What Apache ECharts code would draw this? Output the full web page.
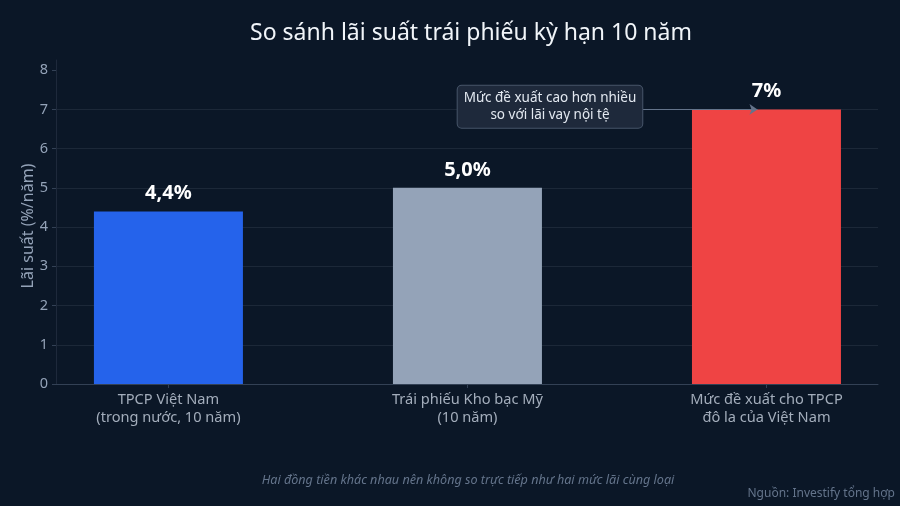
<!DOCTYPE html>
<html><head><meta charset="utf-8">
<script src="https://cdn.jsdelivr.net/npm/echarts@6/dist/echarts.min.js"></script>
<style>html,body{margin:0;padding:0;background:#0b1727;}#c{width:900px;height:506px;}</style>
</head><body><div id="c"></div>
<script>
const categories = ['TPCP Việt Nam\n(trong nước, 10 năm)', 'Trái phiếu Kho bạc Mỹ\n(10 năm)', 'Mức đề xuất cho TPCP\nđô la của Việt Nam'];
const values = [4.4, 5.0, 7.0];
const valueLabels = ['4,4%', '5,0%', '7%'];
const barColors = ['#2563eb', '#94a3b8', '#ef4444'];
const yTicks = [0, 1, 2, 3, 4, 5, 6, 7, 8];
const positions = [0, 1, 2];
const yAxisName = 'Lãi suất (%/năm)';

const chart = echarts.init(document.getElementById('c'));
const font = 'Noto Sans';
chart.setOption({
  backgroundColor: '#0b1727',
  textStyle: { fontFamily: font },
  title: [
    { text: 'So sánh lãi suất trái phiếu kỳ hạn 10 năm', left: 466, top: 17, textAlign: 'center',
      textStyle: { color: '#f1f5f9', fontSize: 23, fontWeight: 'normal', fontFamily: font } },
    { text: 'Hai đồng tiền khác nhau nên không so trực tiếp như hai mức lãi cùng loại', left: 463, top: 469, textAlign: 'center',
      textStyle: { color: '#64748b', fontSize: 12.6, fontStyle: 'italic', fontWeight: 'normal', fontFamily: font } },
    { text: 'Nguồn: Investify tổng hợp', right: 5, top: 488, padding: 0,
      textStyle: { color: '#64748b', fontSize: 12, fontWeight: 'normal', fontFamily: font } }
  ],
  graphic: [{
    type: 'text', x: 28, y: 226, rotation: Math.PI / 2,
    style: { text: yAxisName, fill: '#94a3b8', fontSize: 16, fontFamily: font, align: 'center', verticalAlign: 'middle' }
  }],
  grid: { left: 56, right: 22, top: 60, bottom: 122 },
  xAxis: {
    type: 'value', min: -0.376, max: 2.373,
    splitLine: { show: false },
    axisLine: { show: true, onZero: false, lineStyle: { color: '#334155' } },
    axisTick: { show: true, customValues: positions, length: 4, lineStyle: { color: '#334155' } },
    axisLabel: { customValues: positions, formatter: v => categories[Math.round(v)], color: '#a3adbb', fontSize: 14.6, lineHeight: 18, margin: 7, fontFamily: font }
  },
  yAxis: {
    type: 'value', min: 0, max: 8.26, interval: 1,
    axisLine: { show: true, onZero: false, lineStyle: { color: '#1e293b' } },
    axisTick: { show: true, length: 4, customValues: yTicks, lineStyle: { color: '#334155' } },
    axisLabel: { color: '#94a3b8', fontSize: 14.5, margin: 8, fontFamily: font, customValues: yTicks },
    splitLine: { showMaxLine: false, lineStyle: { color: '#1c2838', width: 1 } }
  },
  series: [{
    type: 'bar', barWidth: 149,
    data: values.map((v, i) => ({ value: [positions[i], v], itemStyle: { color: barColors[i] } })),
    label: { show: true, position: 'top', distance: 8, formatter: p => valueLabels[p.dataIndex],
      color: '#ffffff', fontSize: 20, fontWeight: 'bold', fontFamily: font },
    markLine: {
      silent: true, symbol: ['none', 'arrow'], symbolSize: [8, 8],
      lineStyle: { color: '#64748b', width: 1, type: 'solid' },
      label: { show: false },
      data: [[{ coord: [1.584, 7] }, { coord: [1.97, 7] }]]
    },
    markPoint: {
      silent: true, symbol: 'rect', symbolSize: 1, itemStyle: { color: 'rgba(0,0,0,0)' },
      data: [{ coord: [1.276, 7.07] }],
      label: { show: true, position: 'inside', formatter: 'Mức đề xuất cao hơn nhiều\nso với lãi vay nội tệ',
        color: '#e2e8f0', fontSize: 13.5, lineHeight: 17, align: 'center',
        backgroundColor: '#1e293b', borderColor: '#475569', borderWidth: 1, borderRadius: 4,
        padding: [4, 6, 4, 6], fontFamily: font }
    }
  }]
});
</script></body></html>
